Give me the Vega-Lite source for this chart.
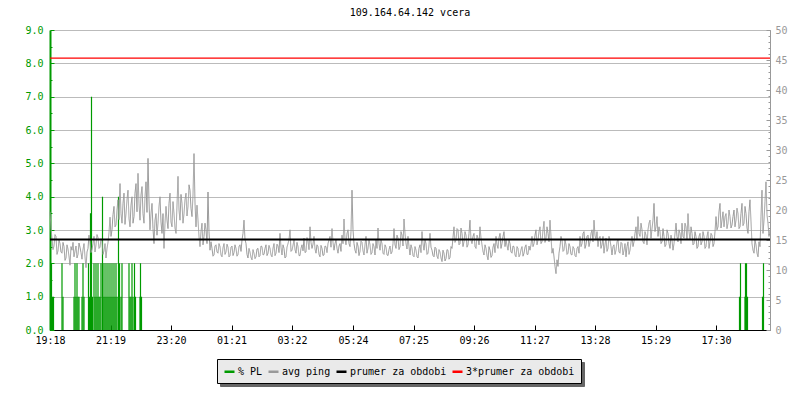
{
  "$schema": "https://vega.github.io/schema/vega-lite/v6.json",
  "width": 720,
  "height": 300,
  "autosize": {"type": "none"},
  "padding": {"left": 50, "top": 30, "right": 30, "bottom": 70},
  "background": "white",
  "title": {"text": "109.164.64.142 vcera", "font": "DejaVu Sans Mono", "fontSize": 10, "fontWeight": "normal", "color": "#000000", "anchor": "middle", "baseline": "alphabetic", "offset": 13, "dy": 14},
  "config": {
    "view": {"stroke": null},
    "axis": {"labelFont": "DejaVu Sans Mono", "labelFontSize": 10, "title": null}
  },
  "datasets": {
    "pl": [
      {"t":3,"pl":2},{"t":5,"pl":1},{"t":7,"pl":1},{"t":24,"pl":2},{"t":26,"pl":1},{"t":48,"pl":1},{"t":50,"pl":2},{"t":52,"pl":1},{"t":54,"pl":2},{"t":56,"pl":1},{"t":58,"pl":1},{"t":64,"pl":1},{"t":66,"pl":2},{"t":68,"pl":1},{"t":77,"pl":2},{"t":79,"pl":1},{"t":81,"pl":3.5},{"t":83,"pl":7},{"t":85,"pl":1},{"t":88,"pl":2},{"t":90,"pl":1},{"t":92,"pl":2},{"t":94,"pl":1},{"t":96,"pl":2},{"t":98,"pl":1},{"t":100,"pl":1},{"t":102,"pl":2},{"t":105,"pl":4},{"t":106,"pl":1},{"t":108,"pl":2},{"t":110,"pl":1},{"t":112,"pl":2},{"t":114,"pl":1},{"t":116,"pl":2},{"t":118,"pl":1},{"t":120,"pl":2},{"t":122,"pl":1},{"t":124,"pl":2},{"t":126,"pl":1},{"t":128,"pl":2},{"t":130,"pl":1},{"t":132,"pl":2},{"t":134,"pl":1},{"t":137,"pl":4},{"t":139,"pl":2},{"t":142,"pl":1},{"t":144,"pl":2},{"t":158,"pl":2},{"t":160,"pl":1},{"t":162,"pl":1},{"t":164,"pl":2},{"t":166,"pl":1},{"t":169,"pl":2},{"t":171,"pl":1},{"t":180,"pl":1},{"t":181,"pl":2},{"t":183,"pl":1},{"t":1379,"pl":1},{"t":1381,"pl":2},{"t":1390,"pl":1},{"t":1391,"pl":2},{"t":1393,"pl":2},{"t":1395,"pl":1},{"t":1425,"pl":1},{"t":1427,"pl":2}
    ],
    "ping": [
      {"t":0,"ms":19.7},{"t":2,"ms":17.0},{"t":4,"ms":15.2},{"t":6,"ms":13.4},{"t":8,"ms":14.0},{"t":10,"ms":15.9},{"t":12,"ms":15.6},{"t":14,"ms":12.6},{"t":16,"ms":13.2},{"t":18,"ms":15.0},{"t":20,"ms":14.4},{"t":22,"ms":13.0},{"t":24,"ms":12.8},{"t":26,"ms":14.6},{"t":28,"ms":13.9},{"t":30,"ms":11.6},{"t":32,"ms":12.0},{"t":34,"ms":14.2},{"t":36,"ms":13.5},{"t":38,"ms":12.3},{"t":40,"ms":10.8},{"t":42,"ms":13.9},
      {"t":44,"ms":13.3},{"t":46,"ms":14.6},{"t":48,"ms":12.2},{"t":50,"ms":13.1},{"t":52,"ms":14.0},{"t":54,"ms":12.0},{"t":56,"ms":12.6},{"t":58,"ms":14.5},{"t":60,"ms":13.8},{"t":62,"ms":12.9},{"t":64,"ms":11.8},{"t":66,"ms":13.4},{"t":68,"ms":14.4},{"t":70,"ms":12.2},{"t":72,"ms":10.4},{"t":74,"ms":13.0},{"t":76,"ms":13.6},{"t":78,"ms":15.8},{"t":80,"ms":14.8},{"t":82,"ms":12.9},
      {"t":84,"ms":13.4},{"t":86,"ms":14.4},{"t":88,"ms":15.6},{"t":90,"ms":13.0},{"t":92,"ms":14.2},{"t":94,"ms":15.9},{"t":96,"ms":15.4},{"t":98,"ms":13.6},{"t":100,"ms":13.8},{"t":102,"ms":15.2},{"t":104,"ms":14.8},{"t":106,"ms":12.6},{"t":108,"ms":13.2},{"t":110,"ms":14.4},{"t":112,"ms":12.0},{"t":114,"ms":13.6},{"t":116,"ms":14.6},{"t":118,"ms":16.2},{"t":120,"ms":18.8},{"t":122,"ms":15.6},
      {"t":124,"ms":16.7},{"t":126,"ms":19.2},{"t":128,"ms":20.6},{"t":130,"ms":17.2},{"t":132,"ms":17.5},{"t":134,"ms":20.0},{"t":136,"ms":21.7},{"t":138,"ms":18.4},{"t":140,"ms":24.4},{"t":142,"ms":19.4},{"t":144,"ms":17.8},{"t":146,"ms":21.1},{"t":148,"ms":22.8},{"t":150,"ms":17.6},{"t":152,"ms":19.4},{"t":154,"ms":21.7},{"t":156,"ms":23.3},{"t":158,"ms":18.6},{"t":160,"ms":17.2},{"t":162,"ms":20.8},
      {"t":164,"ms":22.2},{"t":166,"ms":17.8},{"t":168,"ms":18.9},{"t":170,"ms":22.8},{"t":172,"ms":24.4},{"t":174,"ms":19.7},{"t":176,"ms":26.1},{"t":178,"ms":21.1},{"t":180,"ms":18.3},{"t":182,"ms":22.5},{"t":184,"ms":23.9},{"t":186,"ms":19.4},{"t":188,"ms":17.8},{"t":190,"ms":22.2},{"t":192,"ms":24.7},{"t":194,"ms":19.6},{"t":196,"ms":28.6},{"t":198,"ms":21.5},{"t":200,"ms":16.7},{"t":202,"ms":19.4},
      {"t":204,"ms":21.1},{"t":206,"ms":16.9},{"t":208,"ms":14.4},{"t":210,"ms":18.3},{"t":212,"ms":19.4},{"t":214,"ms":15.8},{"t":216,"ms":17.8},{"t":218,"ms":20.6},{"t":220,"ms":22.2},{"t":222,"ms":18.0},{"t":224,"ms":16.1},{"t":226,"ms":19.4},{"t":228,"ms":13.6},{"t":230,"ms":17.8},{"t":232,"ms":20.6},{"t":234,"ms":18.3},{"t":236,"ms":16.9},{"t":238,"ms":21.1},{"t":240,"ms":22.8},{"t":242,"ms":18.0},
      {"t":244,"ms":17.2},{"t":246,"ms":21.4},{"t":248,"ms":19.4},{"t":250,"ms":17.0},{"t":252,"ms":16.1},{"t":254,"ms":20.8},{"t":256,"ms":25.6},{"t":258,"ms":20.0},{"t":260,"ms":18.3},{"t":262,"ms":22.6},{"t":264,"ms":21.1},{"t":266,"ms":17.8},{"t":268,"ms":19.4},{"t":270,"ms":21.7},{"t":272,"ms":22.8},{"t":274,"ms":19.0},{"t":276,"ms":20.6},{"t":278,"ms":24.2},{"t":280,"ms":23.3},{"t":282,"ms":20.3},
      {"t":284,"ms":18.9},{"t":286,"ms":22.5},{"t":288,"ms":29.4},{"t":290,"ms":21.2},{"t":292,"ms":17.2},{"t":294,"ms":20.8},{"t":296,"ms":18.3},{"t":298,"ms":15.6},{"t":300,"ms":13.9},{"t":302,"ms":16.4},{"t":304,"ms":17.8},{"t":306,"ms":14.2},{"t":308,"ms":15.6},{"t":310,"ms":17.8},{"t":312,"ms":16.7},{"t":314,"ms":14.4},{"t":316,"ms":23.0},{"t":318,"ms":16.4},{"t":320,"ms":13.3},{"t":322,"ms":14.7},
      {"t":324,"ms":13.6},{"t":326,"ms":12.3},{"t":328,"ms":12.5},{"t":330,"ms":14.0},{"t":332,"ms":14.2},{"t":334,"ms":13.0},{"t":336,"ms":12.8},{"t":338,"ms":14.4},{"t":340,"ms":13.9},{"t":342,"ms":12.5},{"t":344,"ms":12.2},{"t":346,"ms":13.7},{"t":348,"ms":14.4},{"t":350,"ms":12.6},{"t":352,"ms":13.0},{"t":354,"ms":14.3},{"t":356,"ms":13.8},{"t":358,"ms":12.2},{"t":360,"ms":12.4},{"t":362,"ms":13.8},
      {"t":364,"ms":14.0},{"t":366,"ms":12.4},{"t":368,"ms":12.9},{"t":370,"ms":14.2},{"t":372,"ms":13.6},{"t":374,"ms":12.3},{"t":376,"ms":12.6},{"t":378,"ms":13.9},{"t":380,"ms":14.2},{"t":382,"ms":13.1},{"t":384,"ms":15.0},{"t":386,"ms":16.1},{"t":388,"ms":18.3},{"t":390,"ms":15.1},{"t":392,"ms":14.4},{"t":394,"ms":12.6},{"t":396,"ms":12.0},{"t":398,"ms":13.6},{"t":400,"ms":13.0},{"t":402,"ms":12.1},
      {"t":404,"ms":11.7},{"t":406,"ms":13.4},{"t":408,"ms":12.8},{"t":410,"ms":11.9},{"t":412,"ms":12.2},{"t":414,"ms":13.5},{"t":416,"ms":13.6},{"t":418,"ms":12.2},{"t":420,"ms":12.4},{"t":422,"ms":14.0},{"t":424,"ms":13.9},{"t":426,"ms":12.5},{"t":428,"ms":12.6},{"t":430,"ms":13.6},{"t":432,"ms":14.2},{"t":434,"ms":12.4},{"t":436,"ms":12.8},{"t":438,"ms":14.1},{"t":440,"ms":13.6},{"t":442,"ms":12.5},
      {"t":444,"ms":12.2},{"t":446,"ms":13.6},{"t":448,"ms":14.4},{"t":450,"ms":12.4},{"t":452,"ms":12.8},{"t":454,"ms":14.3},{"t":456,"ms":14.0},{"t":458,"ms":12.9},{"t":460,"ms":16.1},{"t":462,"ms":13.8},{"t":464,"ms":12.5},{"t":466,"ms":14.2},{"t":468,"ms":13.6},{"t":470,"ms":12.0},{"t":472,"ms":12.2},{"t":474,"ms":13.8},{"t":476,"ms":14.4},{"t":478,"ms":15.0},{"t":480,"ms":16.7},{"t":482,"ms":13.1},
      {"t":484,"ms":13.3},{"t":486,"ms":14.1},{"t":488,"ms":15.0},{"t":490,"ms":13.4},{"t":492,"ms":12.8},{"t":494,"ms":14.6},{"t":496,"ms":13.9},{"t":498,"ms":12.4},{"t":500,"ms":12.4},{"t":502,"ms":13.6},{"t":504,"ms":14.2},{"t":506,"ms":13.2},{"t":508,"ms":15.3},{"t":510,"ms":12.9},{"t":512,"ms":13.0},{"t":514,"ms":15.4},{"t":516,"ms":14.8},{"t":518,"ms":13.4},{"t":520,"ms":17.2},{"t":522,"ms":14.6},
      {"t":524,"ms":13.6},{"t":526,"ms":14.3},{"t":528,"ms":15.6},{"t":530,"ms":13.5},{"t":532,"ms":12.8},{"t":534,"ms":14.2},{"t":536,"ms":13.9},{"t":538,"ms":12.6},{"t":540,"ms":12.2},{"t":542,"ms":14.1},{"t":544,"ms":13.6},{"t":546,"ms":12.4},{"t":548,"ms":12.5},{"t":550,"ms":14.0},{"t":552,"ms":13.9},{"t":554,"ms":12.9},{"t":556,"ms":14.4},{"t":558,"ms":15.0},{"t":560,"ms":15.6},{"t":562,"ms":13.8},
      {"t":564,"ms":16.9},{"t":566,"ms":14.6},{"t":568,"ms":13.3},{"t":570,"ms":14.4},{"t":572,"ms":15.0},{"t":574,"ms":13.6},{"t":576,"ms":12.8},{"t":578,"ms":14.0},{"t":580,"ms":14.4},{"t":582,"ms":13.1},{"t":584,"ms":15.8},{"t":586,"ms":14.4},{"t":588,"ms":18.5},{"t":590,"ms":15.2},{"t":592,"ms":14.2},{"t":594,"ms":16.1},{"t":596,"ms":16.7},{"t":598,"ms":14.4},{"t":600,"ms":13.9},{"t":602,"ms":16.4},
      {"t":604,"ms":23.3},{"t":606,"ms":16.7},{"t":608,"ms":14.4},{"t":610,"ms":13.3},{"t":612,"ms":12.8},{"t":614,"ms":14.6},{"t":616,"ms":14.0},{"t":618,"ms":12.4},{"t":620,"ms":13.1},{"t":622,"ms":14.8},{"t":624,"ms":14.6},{"t":626,"ms":13.2},{"t":628,"ms":12.5},{"t":630,"ms":14.2},{"t":632,"ms":15.6},{"t":634,"ms":12.8},{"t":636,"ms":13.6},{"t":638,"ms":15.0},{"t":640,"ms":14.2},{"t":642,"ms":12.6},
      {"t":644,"ms":12.9},{"t":646,"ms":14.4},{"t":648,"ms":13.9},{"t":650,"ms":12.5},{"t":652,"ms":15.0},{"t":654,"ms":13.6},{"t":656,"ms":17.0},{"t":658,"ms":14.4},{"t":660,"ms":13.3},{"t":662,"ms":15.0},{"t":664,"ms":14.4},{"t":666,"ms":12.8},{"t":668,"ms":12.6},{"t":670,"ms":14.2},{"t":672,"ms":13.8},{"t":674,"ms":12.5},{"t":676,"ms":12.4},{"t":678,"ms":13.4},{"t":680,"ms":14.0},{"t":682,"ms":12.7},
      {"t":684,"ms":13.0},{"t":686,"ms":14.4},{"t":688,"ms":16.9},{"t":690,"ms":14.2},{"t":692,"ms":13.6},{"t":694,"ms":15.8},{"t":696,"ms":15.3},{"t":698,"ms":13.4},{"t":700,"ms":13.9},{"t":702,"ms":16.4},{"t":704,"ms":15.8},{"t":706,"ms":14.0},{"t":708,"ms":18.5},{"t":710,"ms":16.1},{"t":712,"ms":14.4},{"t":714,"ms":13.5},{"t":716,"ms":15.6},{"t":718,"ms":13.9},{"t":720,"ms":12.5},{"t":722,"ms":14.2},
      {"t":724,"ms":13.6},{"t":726,"ms":12.4},{"t":728,"ms":12.2},{"t":730,"ms":13.9},{"t":732,"ms":13.3},{"t":734,"ms":12.2},{"t":736,"ms":12.0},{"t":738,"ms":13.6},{"t":740,"ms":14.2},{"t":742,"ms":12.9},{"t":744,"ms":16.4},{"t":746,"ms":14.4},{"t":748,"ms":13.3},{"t":750,"ms":15.0},{"t":752,"ms":14.4},{"t":754,"ms":12.6},{"t":756,"ms":12.8},{"t":758,"ms":14.2},{"t":760,"ms":16.1},{"t":762,"ms":13.8},
      {"t":764,"ms":13.3},{"t":766,"ms":12.4},{"t":768,"ms":12.2},{"t":770,"ms":13.8},{"t":772,"ms":13.6},{"t":774,"ms":12.3},{"t":776,"ms":11.9},{"t":778,"ms":13.4},{"t":780,"ms":13.0},{"t":782,"ms":12.0},{"t":784,"ms":11.4},{"t":786,"ms":13.3},{"t":788,"ms":12.8},{"t":790,"ms":11.5},{"t":792,"ms":11.9},{"t":794,"ms":13.4},{"t":796,"ms":13.3},{"t":798,"ms":11.8},{"t":800,"ms":12.1},{"t":802,"ms":13.9},
      {"t":804,"ms":13.6},{"t":806,"ms":15.4},{"t":808,"ms":17.2},{"t":810,"ms":14.6},{"t":812,"ms":15.0},{"t":814,"ms":16.9},{"t":816,"ms":16.7},{"t":818,"ms":14.2},{"t":820,"ms":14.4},{"t":822,"ms":17.0},{"t":824,"ms":16.1},{"t":826,"ms":13.9},{"t":828,"ms":14.7},{"t":830,"ms":16.4},{"t":832,"ms":15.8},{"t":834,"ms":13.8},{"t":836,"ms":14.2},{"t":838,"ms":16.1},{"t":840,"ms":18.3},{"t":842,"ms":15.0},
      {"t":844,"ms":14.4},{"t":846,"ms":15.6},{"t":848,"ms":16.1},{"t":850,"ms":13.9},{"t":852,"ms":13.6},{"t":854,"ms":15.8},{"t":856,"ms":15.3},{"t":858,"ms":14.2},{"t":860,"ms":17.2},{"t":862,"ms":15.3},{"t":864,"ms":14.2},{"t":866,"ms":13.1},{"t":868,"ms":12.5},{"t":870,"ms":14.2},{"t":872,"ms":13.6},{"t":874,"ms":12.4},{"t":876,"ms":11.7},{"t":878,"ms":13.9},{"t":880,"ms":13.3},{"t":882,"ms":12.1},
      {"t":884,"ms":12.4},{"t":886,"ms":13.8},{"t":888,"ms":14.4},{"t":890,"ms":12.9},{"t":892,"ms":15.6},{"t":894,"ms":14.2},{"t":896,"ms":13.6},{"t":898,"ms":15.4},{"t":900,"ms":16.1},{"t":902,"ms":13.6},{"t":904,"ms":14.4},{"t":906,"ms":15.6},{"t":908,"ms":16.4},{"t":910,"ms":13.9},{"t":912,"ms":15.0},{"t":914,"ms":14.1},{"t":916,"ms":13.3},{"t":918,"ms":15.0},{"t":920,"ms":14.4},{"t":922,"ms":13.0},
      {"t":924,"ms":12.8},{"t":926,"ms":14.0},{"t":928,"ms":13.9},{"t":930,"ms":12.5},{"t":932,"ms":12.2},{"t":934,"ms":13.9},{"t":936,"ms":13.6},{"t":938,"ms":12.2},{"t":940,"ms":12.5},{"t":942,"ms":13.4},{"t":944,"ms":13.9},{"t":946,"ms":12.3},{"t":948,"ms":12.8},{"t":950,"ms":13.8},{"t":952,"ms":14.2},{"t":954,"ms":12.6},{"t":956,"ms":12.6},{"t":958,"ms":14.0},{"t":960,"ms":13.3},{"t":962,"ms":14.2},
      {"t":964,"ms":15.6},{"t":966,"ms":13.9},{"t":968,"ms":14.4},{"t":970,"ms":15.8},{"t":972,"ms":16.7},{"t":974,"ms":14.2},{"t":976,"ms":15.0},{"t":978,"ms":16.4},{"t":980,"ms":17.2},{"t":982,"ms":14.4},{"t":984,"ms":14.7},{"t":986,"ms":16.7},{"t":988,"ms":18.1},{"t":990,"ms":14.6},{"t":992,"ms":15.3},{"t":994,"ms":17.2},{"t":996,"ms":16.1},{"t":998,"ms":14.7},{"t":1000,"ms":18.3},{"t":1002,"ms":15.6},
      {"t":1004,"ms":12.8},{"t":1006,"ms":13.6},{"t":1008,"ms":12.2},{"t":1010,"ms":10.6},{"t":1012,"ms":9.4},{"t":1014,"ms":11.7},{"t":1016,"ms":10.6},{"t":1018,"ms":12.8},{"t":1020,"ms":13.9},{"t":1022,"ms":15.6},{"t":1024,"ms":15.0},{"t":1026,"ms":13.1},{"t":1028,"ms":13.3},{"t":1030,"ms":15.0},{"t":1032,"ms":14.2},{"t":1034,"ms":12.6},{"t":1036,"ms":12.8},{"t":1038,"ms":14.4},{"t":1040,"ms":13.9},{"t":1042,"ms":12.6},
      {"t":1044,"ms":12.5},{"t":1046,"ms":13.9},{"t":1048,"ms":13.6},{"t":1050,"ms":12.4},{"t":1052,"ms":12.2},{"t":1054,"ms":13.6},{"t":1056,"ms":13.9},{"t":1058,"ms":12.8},{"t":1060,"ms":15.6},{"t":1062,"ms":13.9},{"t":1064,"ms":14.4},{"t":1066,"ms":16.1},{"t":1068,"ms":16.4},{"t":1070,"ms":13.6},{"t":1072,"ms":14.2},{"t":1074,"ms":15.6},{"t":1076,"ms":15.8},{"t":1078,"ms":13.9},{"t":1080,"ms":14.7},{"t":1082,"ms":16.1},
      {"t":1084,"ms":16.7},{"t":1086,"ms":14.7},{"t":1088,"ms":18.3},{"t":1090,"ms":15.8},{"t":1092,"ms":15.0},{"t":1094,"ms":16.4},{"t":1096,"ms":13.9},{"t":1098,"ms":15.3},{"t":1100,"ms":15.6},{"t":1102,"ms":13.6},{"t":1104,"ms":14.2},{"t":1106,"ms":15.6},{"t":1108,"ms":12.8},{"t":1110,"ms":14.2},{"t":1112,"ms":15.3},{"t":1114,"ms":13.1},{"t":1116,"ms":13.6},{"t":1118,"ms":15.6},{"t":1120,"ms":15.0},{"t":1122,"ms":13.9},
      {"t":1124,"ms":12.5},{"t":1126,"ms":13.9},{"t":1128,"ms":14.2},{"t":1130,"ms":12.6},{"t":1132,"ms":13.3},{"t":1134,"ms":14.7},{"t":1136,"ms":15.0},{"t":1138,"ms":13.0},{"t":1140,"ms":12.8},{"t":1142,"ms":14.6},{"t":1144,"ms":14.4},{"t":1146,"ms":12.5},{"t":1148,"ms":13.3},{"t":1150,"ms":14.4},{"t":1152,"ms":12.2},{"t":1154,"ms":13.9},{"t":1156,"ms":14.7},{"t":1158,"ms":12.6},{"t":1160,"ms":13.3},{"t":1162,"ms":14.6},
      {"t":1164,"ms":15.6},{"t":1166,"ms":13.9},{"t":1168,"ms":14.7},{"t":1170,"ms":16.1},{"t":1172,"ms":17.2},{"t":1174,"ms":15.0},{"t":1176,"ms":18.9},{"t":1178,"ms":16.1},{"t":1180,"ms":15.6},{"t":1182,"ms":17.8},{"t":1184,"ms":16.7},{"t":1186,"ms":14.7},{"t":1188,"ms":14.4},{"t":1190,"ms":16.4},{"t":1192,"ms":15.8},{"t":1194,"ms":14.2},{"t":1196,"ms":16.7},{"t":1198,"ms":17.8},{"t":1200,"ms":18.3},{"t":1202,"ms":15.3},
      {"t":1204,"ms":16.9},{"t":1206,"ms":18.3},{"t":1208,"ms":21.1},{"t":1210,"ms":16.4},{"t":1212,"ms":17.2},{"t":1214,"ms":18.9},{"t":1216,"ms":15.6},{"t":1218,"ms":17.2},{"t":1220,"ms":16.4},{"t":1222,"ms":14.4},{"t":1224,"ms":14.7},{"t":1226,"ms":16.9},{"t":1228,"ms":15.6},{"t":1230,"ms":13.9},{"t":1232,"ms":14.2},{"t":1234,"ms":16.7},{"t":1236,"ms":16.1},{"t":1238,"ms":14.4},{"t":1240,"ms":13.6},{"t":1242,"ms":15.8},
      {"t":1244,"ms":15.0},{"t":1246,"ms":13.3},{"t":1248,"ms":14.4},{"t":1250,"ms":16.1},{"t":1252,"ms":17.8},{"t":1254,"ms":15.6},{"t":1256,"ms":14.7},{"t":1258,"ms":16.7},{"t":1260,"ms":16.1},{"t":1262,"ms":14.4},{"t":1264,"ms":17.8},{"t":1266,"ms":15.6},{"t":1268,"ms":15.3},{"t":1270,"ms":17.8},{"t":1272,"ms":17.2},{"t":1274,"ms":15.0},{"t":1276,"ms":19.4},{"t":1278,"ms":16.4},{"t":1280,"ms":15.0},{"t":1282,"ms":17.2},
      {"t":1284,"ms":16.1},{"t":1286,"ms":14.2},{"t":1288,"ms":14.4},{"t":1290,"ms":16.4},{"t":1292,"ms":15.6},{"t":1294,"ms":13.6},{"t":1296,"ms":13.9},{"t":1298,"ms":15.6},{"t":1300,"ms":16.1},{"t":1302,"ms":14.2},{"t":1304,"ms":14.7},{"t":1306,"ms":16.4},{"t":1308,"ms":15.6},{"t":1310,"ms":13.6},{"t":1312,"ms":13.9},{"t":1314,"ms":15.6},{"t":1316,"ms":16.4},{"t":1318,"ms":13.6},{"t":1320,"ms":14.7},{"t":1322,"ms":16.1},
      {"t":1324,"ms":15.8},{"t":1326,"ms":13.9},{"t":1328,"ms":14.4},{"t":1330,"ms":16.4},{"t":1332,"ms":18.9},{"t":1334,"ms":16.7},{"t":1336,"ms":17.2},{"t":1338,"ms":19.7},{"t":1340,"ms":21.1},{"t":1342,"ms":17.0},{"t":1344,"ms":18.3},{"t":1346,"ms":19.7},{"t":1348,"ms":17.2},{"t":1350,"ms":18.9},{"t":1352,"ms":19.4},{"t":1354,"ms":16.9},{"t":1356,"ms":17.8},{"t":1358,"ms":20.0},{"t":1360,"ms":18.9},{"t":1362,"ms":17.0},
      {"t":1364,"ms":17.5},{"t":1366,"ms":18.9},{"t":1368,"ms":20.0},{"t":1370,"ms":17.2},{"t":1372,"ms":18.3},{"t":1374,"ms":20.3},{"t":1376,"ms":19.4},{"t":1378,"ms":16.9},{"t":1380,"ms":17.2},{"t":1382,"ms":19.4},{"t":1384,"ms":21.1},{"t":1386,"ms":17.4},{"t":1388,"ms":17.8},{"t":1390,"ms":20.6},{"t":1392,"ms":19.4},{"t":1394,"ms":17.0},{"t":1396,"ms":16.1},{"t":1398,"ms":19.7},{"t":1400,"ms":21.7},{"t":1402,"ms":18.1},
      {"t":1404,"ms":14.4},{"t":1406,"ms":13.3},{"t":1408,"ms":12.8},{"t":1410,"ms":15.0},{"t":1412,"ms":14.2},{"t":1414,"ms":12.8},{"t":1416,"ms":12.2},{"t":1418,"ms":14.7},{"t":1420,"ms":13.9},{"t":1422,"ms":18.9},{"t":1424,"ms":23.3},{"t":1426,"ms":16.1},{"t":1428,"ms":18.3},{"t":1430,"ms":21.4},{"t":1432,"ms":24.7},{"t":1434,"ms":19.2},{"t":1436,"ms":17.8},{"t":1438,"ms":15.6},{"t":1440,"ms":16.7}
    ],
    "mean": [
      {"series": "prumer za obdobi", "ms": 15.1},
      {"series": "3*prumer za obdobi", "ms": 45.3}
    ]
  },
  "layer": [
    {
      "data": {"name": "pl"},
      "mark": {"type": "rule", "strokeWidth": 1.2},
      "encoding": {
        "x": {"field": "t", "type": "quantitative", "scale": {"domain": [0, 1440], "nice": false, "zero": false},
          "axis": {"values": [0,121,242,363,484,606,727,848,969,1090,1211,1332], "labelExpr": "timeFormat(datetime(2000,0,1,19,18+datum.value,0,0),'%H:%M')", "grid": false, "tickSize": -5, "tickColor": "#000000", "domainColor": "#000000", "domainWidth": 1, "labelColor": "#000000", "labelPadding": 10.5, "labelFlush": false, "labelOverlap": false}},
        "y": {"field": "pl", "type": "quantitative", "scale": {"domain": [0, 9], "nice": false},
          "axis": {"orient": "left", "values": [0,1,2,3,4,5,6,7,8,9], "format": ".1f", "grid": true, "gridColor": "#bbbbbb", "gridWidth": 1, "tickSize": -4, "tickColor": "#009a00", "domainColor": "#009a00", "domainWidth": 2, "labelColor": "#009a00", "labelPadding": 11}},
        "y2": {"datum": 0},
        "color": {"datum": "% PL", "type": "nominal", "title": null,
          "scale": {"domain": ["% PL", "avg ping", "prumer za obdobi", "3*prumer za obdobi"], "range": ["#009a00", "#999999", "#000000", "#ff0000"]},
          "legend": {"orient": "none", "legendX": 167, "legendY": 329, "zindex": 2, "direction": "horizontal", "columns": 4, "title": null, "symbolType": "stroke", "symbolSize": 100, "symbolStrokeWidth": 2.5, "labelFont": "DejaVu Sans Mono", "labelFontSize": 10, "labelColor": "#000000", "labelOffset": 2, "columnPadding": 0, "padding": 6, "fillColor": "#eaeaea", "strokeColor": "#000000"}},
        "strokeDash": {"datum": "%_PL", "type": "nominal", "title": null,
          "scale": {"domain": ["%_PL", "avg_ping", "prumer_za_obdobi", "3*prumer_za_obdobi"], "range": [[1, 0], [1, 0], [1, 0], [1, 0]]},
          "legend": {"orient": "none", "legendX": 170, "legendY": 332, "zindex": 1, "direction": "horizontal", "columns": 4, "title": null, "symbolType": "stroke", "symbolSize": 100, "symbolStrokeWidth": 2.5, "symbolStrokeColor": "#666666", "labelFont": "DejaVu Sans Mono", "labelFontSize": 10, "labelColor": "#666666", "labelOpacity": 0, "labelOffset": 2, "columnPadding": 0, "padding": 6, "fillColor": "#666666", "strokeColor": "#666666"}}
      }
    },
    {
      "data": {"name": "pl"},
      "mark": {"type": "rule", "opacity": 0},
      "encoding": {
        "x": {"field": "t", "type": "quantitative"},
        "y": {"field": "pl", "type": "quantitative", "scale": {"domain": [0, 9], "nice": false},
          "axis": {"orient": "left", "values": [0.5,1.5,2.5,3.5,4.5,5.5,6.5,7.5,8.5], "labels": false, "grid": false, "domain": false, "tickSize": -2, "tickColor": "#009a00"}},
        "y2": {"datum": 0}
      }
    },
    {
      "data": {"name": "ping"},
      "mark": {"type": "line", "strokeWidth": 1, "interpolate": "linear"},
      "encoding": {
        "x": {"field": "t", "type": "quantitative"},
        "y": {"field": "ms", "type": "quantitative", "scale": {"domain": [0, 50], "nice": false},
          "axis": {"orient": "right", "values": [0,1,2,3,4,5,6,7,8,9,10,11,12,13,14,15,16,17,18,19,20,21,22,23,24,25,26,27,28,29,30,31,32,33,34,35,36,37,38,39,40,41,42,43,44,45,46,47,48,49,50], "labelExpr": "datum.value % 5 === 0 ? datum.label : ''", "labelOverlap": false, "grid": false, "tickSize": -2, "tickColor": "#999999", "domainColor": "#999999", "labelColor": "#999999", "labelPadding": 7}},
        "color": {"datum": "avg ping", "type": "nominal", "title": null},
        "strokeDash": {"datum": "avg_ping", "type": "nominal", "title": null}
      }
    },
    {
      "data": {"name": "mean"},
      "transform": [{"filter": "datum.series === 'prumer za obdobi'"}],
      "mark": {"type": "rule", "strokeWidth": 2},
      "encoding": {
        "y": {"field": "ms", "type": "quantitative", "scale": {"domain": [0, 50], "nice": false},
          "axis": {"orient": "right", "values": [0,5,10,15,20,25,30,35,40,45,50], "labels": false, "grid": false, "domain": false, "tickSize": -4, "tickColor": "#999999"}},
        "color": {"field": "series", "type": "nominal", "title": null},
        "strokeDash": {"datum": "prumer_za_obdobi", "type": "nominal", "title": null}
      }
    },
    {
      "data": {"name": "mean"},
      "transform": [{"filter": "datum.series === '3*prumer za obdobi'"}],
      "mark": {"type": "rule", "strokeWidth": 1.3},
      "encoding": {
        "y": {"field": "ms", "type": "quantitative", "scale": {"domain": [0, 50], "nice": false}, "axis": null},
        "color": {"field": "series", "type": "nominal", "title": null},
        "strokeDash": {"datum": "3*prumer_za_obdobi", "type": "nominal", "title": null}
      }
    }
  ],
  "resolve": {"scale": {"y": "independent"}}
}
